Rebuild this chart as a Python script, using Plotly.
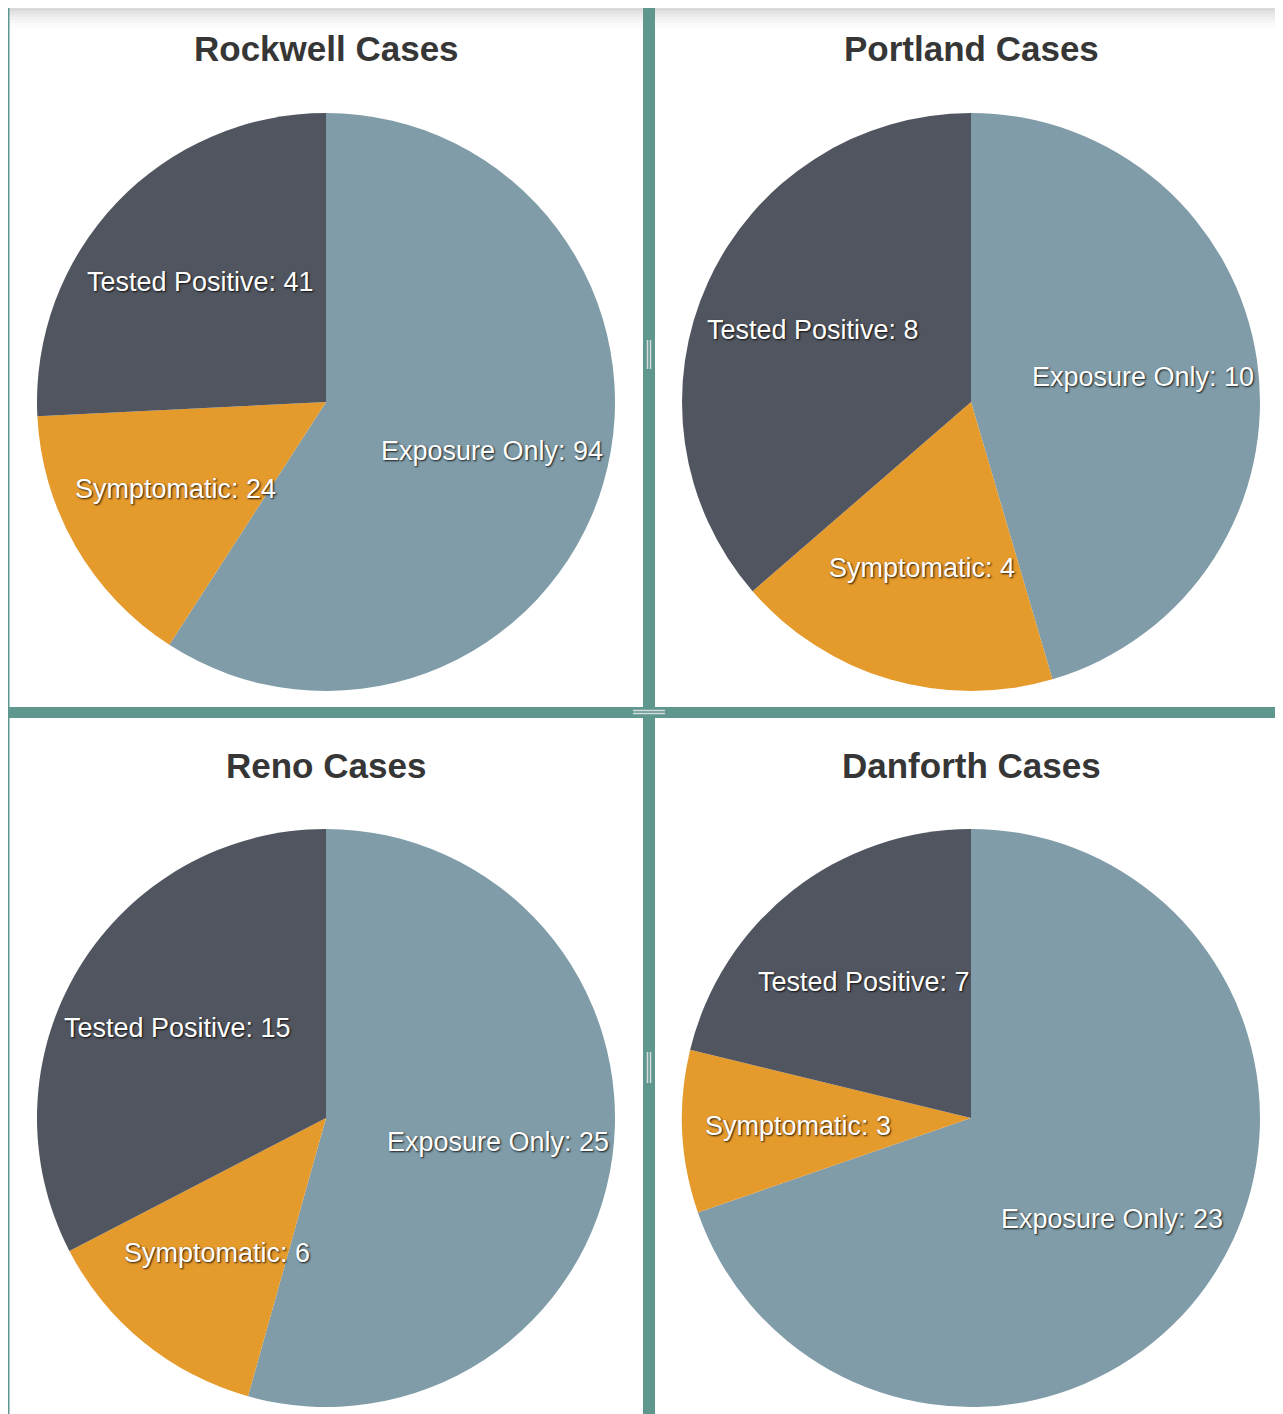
import math
import plotly.graph_objects as go

W, H = 1283, 1414
OFF = 8  # default body margin of the page
FW, FH = W - OFF, H - OFF

cities = ["Rockwell", "Portland", "Reno", "Danforth"]
categories = ["Exposure Only", "Symptomatic", "Tested Positive"]
exposure_only = [94, 10, 25, 23]
symptomatic = [24, 4, 6, 3]
tested_positive = [41, 8, 15, 7]
colors = ["#7f9ca8", "#e59a2c", "#50555f"]

# pie centres / radius in page px
centers = [(326, 402), (971, 402), (326, 1118), (971, 1118)]
R = 289
LABEL_R = 0.6

def px_x(x):
    return (x - OFF) / FW

def px_y(y):
    return 1 - (y - OFF) / FH

fig = go.Figure()
annotations = []
label_font = dict(family="Liberation Sans, Arial", size=27, color="white",
                  shadow="1px 1px 2px rgba(0,0,0,0.85)")
for i, city in enumerate(cities):
    cx, cy = centers[i]
    vals = [exposure_only[i], symptomatic[i], tested_positive[i]]
    fig.add_trace(go.Pie(
        labels=categories,
        values=vals,
        sort=False,
        direction="clockwise",
        rotation=0,
        marker=dict(colors=colors, line=dict(width=0)),
        textinfo="none",
        hoverinfo="none",
        showlegend=False,
        domain=dict(x=[px_x(cx - R), px_x(cx + R)], y=[px_y(cy + R), px_y(cy - R)]),
    ))
    total = sum(vals)
    cum = 0
    for lab, v in zip(categories, vals):
        a = math.radians((cum + v / 2) / total * 360)
        cum += v
        lx = cx + LABEL_R * R * math.sin(a)
        ly = cy - LABEL_R * R * math.cos(a)
        annotations.append(dict(
            x=px_x(lx), y=px_y(ly), xref="paper", yref="paper",
            text=f"{lab}: {v}", showarrow=False, font=label_font,
            xanchor="center", yanchor="middle",
        ))
    annotations.append(dict(
        x=px_x(cx), y=px_y(cy - 353), xref="paper", yref="paper",
        text=f"<b>{city} Cases</b>", showarrow=False,
        font=dict(family="Liberation Sans, Arial", size=35, color="#363636"),
        xanchor="center", yanchor="middle",
    ))

teal = "#5f968d"
shapes = []
# top soft gradient
for k, op in enumerate([0.035, 0.03, 0.025, 0.02, 0.015, 0.01, 0.006]):
    shapes.append(dict(type="rect", xref="paper", yref="paper",
                       x0=0, x1=1, y0=px_y(OFF + 3 * (k + 1)), y1=1,
                       fillcolor="black", opacity=op, line=dict(width=0), layer="below"))
# left thin border
shapes.append(dict(type="rect", xref="paper", yref="paper",
                   x0=0, x1=px_x(OFF + 1.5), y0=0, y1=1,
                   fillcolor=teal, line=dict(width=0)))
# vertical separator
shapes.append(dict(type="rect", xref="paper", yref="paper",
                   x0=px_x(643), x1=px_x(655), y0=0, y1=1,
                   fillcolor=teal, line=dict(width=0)))
# horizontal separator
shapes.append(dict(type="rect", xref="paper", yref="paper",
                   x0=0, x1=1, y0=px_y(718), y1=px_y(707),
                   fillcolor=teal, line=dict(width=0)))
# grips
for gx in (647.5, 650.5):
    for (y0, y1) in ((340, 369), (1052, 1083)):
        shapes.append(dict(type="line", xref="paper", yref="paper",
                           x0=px_x(gx), x1=px_x(gx), y0=px_y(y0), y1=px_y(y1),
                           line=dict(color="#d8dcdc", width=1.5)))
for gy in (710.5, 713.5):
    shapes.append(dict(type="line", xref="paper", yref="paper",
                       x0=px_x(633), x1=px_x(665), y0=px_y(gy), y1=px_y(gy),
                       line=dict(color="#d8dcdc", width=1.5)))

fig.update_layout(
    width=FW, height=FH,
    margin=dict(l=0, r=0, t=0, b=0),
    paper_bgcolor="white",
    plot_bgcolor="white",
    shapes=shapes,
    annotations=annotations,
)

fig.write_html("out.html")
